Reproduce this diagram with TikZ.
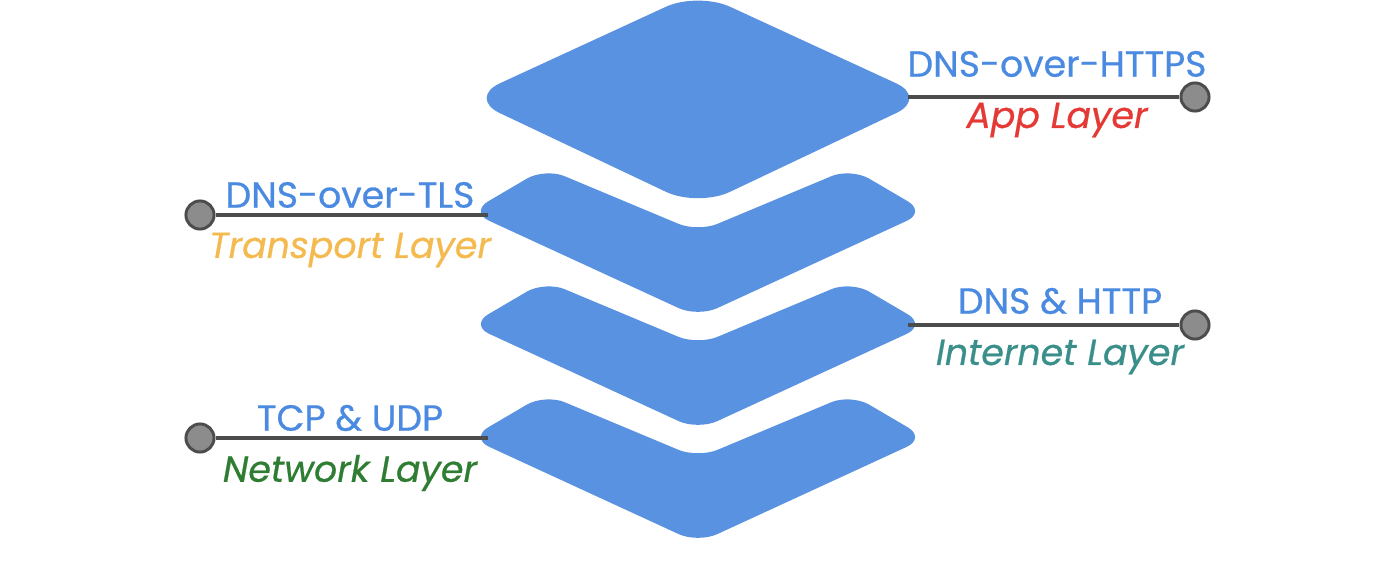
\documentclass[tikz,border=0pt]{standalone}
\usepackage{fontspec}
\setmainfont{Poppins}[FakeBold=0.6]
\definecolor{layer}{HTML}{5A92E2}
\definecolor{tblue}{HTML}{4A8AE0}
\definecolor{tred}{HTML}{E53935}
\definecolor{torange}{HTML}{F4BA50}
\definecolor{tteal}{HTML}{3A8F8A}
\definecolor{tgreen}{HTML}{2F7D32}
\tikzset{
  lay/.style={fill=layer,rounded corners=30pt},
  conn/.style={draw=black!70,line width=3pt},
  dot/.style={circle,fill=black!45,draw=black!70,line width=2.5pt,minimum size=24pt,inner sep=0pt},
  proto/.style={text=tblue,font=\fontsize{31}{34}\selectfont},
  layname/.style={font=\fontsize{31}{34}\selectfont\itshape},
}
\begin{document}
\begin{tikzpicture}[x=0.03cm,y=-0.03cm]
\useasboundingbox (0,0) rectangle (1396,570);
\fill[lay] (468,98) -- (698,-8) -- (928,98) -- (698,207) -- cycle;
\foreach \o in {0,113,226}{
  \fill[lay,rounded corners=18pt] (470,212+\o) -- (545,168+\o) -- (698,232+\o) -- (851,168+\o) -- (926,212+\o) -- (698,317+\o) -- cycle;
}
\coordinate (r1) at (908,97);
\coordinate (l2) at (488,215);
\coordinate (r3) at (908,325);
\coordinate (l4) at (488,438);
\node[dot] (d1) at (1195,97) {};
\node[dot] (d2) at (200,215) {};
\node[dot] (d3) at (1195,325) {};
\node[dot] (d4) at (200,438) {};
\draw[conn] (r1) -- (d1);
\draw[conn] (l2) -- (d2);
\draw[conn] (r3) -- (d3);
\draw[conn] (l4) -- (d4);
\node[proto] (t1) at (1057,64) {DNS-over-HTTPS};
\node[layname,text=tred] (n1) at (1057,120) {App Layer};
\node[proto] (t2) at (350,195) {DNS-over-TLS};
\node[layname,text=torange] (n2) at (350,250) {Transport Layer};
\node[proto] (t3) at (1060,301) {DNS \& HTTP};
\node[layname,text=tteal] (n3) at (1060,357) {Internet Layer};
\node[proto] (t4) at (350,418) {TCP \& UDP};
\node[layname,text=tgreen] (n4) at (350,473) {Network Layer};
\end{tikzpicture}
\end{document}
